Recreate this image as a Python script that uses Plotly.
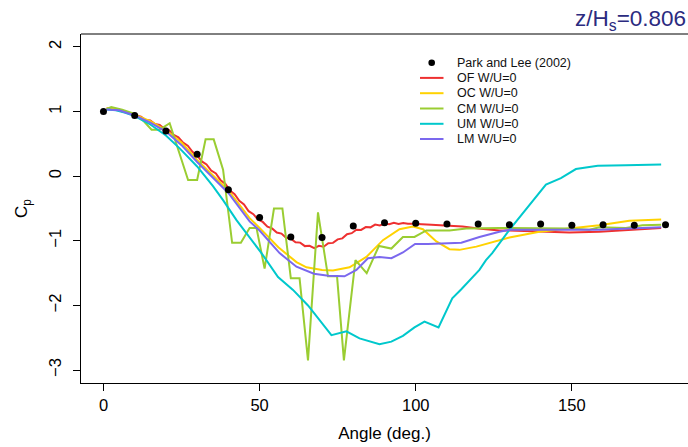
import plotly.graph_objects as go

# Reference measurements (Park and Lee, 2002)
ref_angle = [0, 10, 20, 30, 40, 50, 60, 70, 80, 90, 100, 110, 120, 130, 140, 150, 160, 170, 180]
ref_cp = [1.0, 0.94, 0.70, 0.34, -0.21, -0.64, -0.94, -0.95, -0.77, -0.72, -0.73, -0.74,
          -0.74, -0.75, -0.74, -0.76, -0.75, -0.76, -0.75]

# OF W/U=0
of_angle = [1.0, 4, 7, 10, 12, 13.5, 15, 16.5, 18, 19.5, 21, 22.5, 24, 25.5, 27, 28.5, 30, 31.5,
            33, 34.5, 36, 37.5, 39, 40.5, 42, 43.5, 45, 46.5, 48, 49.5, 51, 52.5, 54, 55.5, 57,
            58.5, 60, 61.5, 63, 64.5, 66, 67.5, 69, 70.5, 72, 73.5, 75, 76.5, 78, 79.5, 81, 82.5,
            84, 85.5, 87, 88.5, 90, 91.5, 93, 94.5, 96, 97.5, 99, 105, 110, 115, 120, 126.8, 130,
            139.6, 149.2, 158.8, 168.4, 178.6]
of_cp = [1.05, 1.03, 0.99, 0.95, 0.922, 0.868, 0.862, 0.808, 0.792, 0.733, 0.712, 0.638, 0.602,
         0.518, 0.472, 0.378, 0.322, 0.228, 0.182, 0.088, 0.042, -0.062, -0.118, -0.222, -0.278,
         -0.382, -0.438, -0.542, -0.588, -0.672, -0.708, -0.782, -0.808, -0.872, -0.888, -0.952,
         -0.968, -1.022, -1.028, -1.082, -1.078, -1.112, -1.078, -1.092, -1.038, -1.032, -0.978,
         -0.962, -0.898, -0.882, -0.828, -0.832, -0.788, -0.792, -0.748, -0.762, -0.732, -0.743,
         -0.722, -0.738, -0.724, -0.736, -0.735, -0.75, -0.76, -0.78, -0.81, -0.84, -0.84,
         -0.86, -0.87, -0.86, -0.83, -0.80]

# OC W/U=0
oc_angle = [1.0, 5, 10, 15, 20, 25, 30, 35, 40, 46.8, 50, 56, 61.8, 65, 70, 73.5, 78.8, 84.2,
            89.5, 94.8, 99.1, 102.3, 106.6, 110.8, 114, 119.4, 126.8, 130, 139.6, 149.2, 158.8,
            168.4, 178.6]
oc_cp = [1.05, 1.03, 0.95, 0.85, 0.71, 0.52, 0.25, 0.02, -0.22, -0.65, -0.80, -1.10, -1.33,
         -1.41, -1.45, -1.46, -1.41, -1.25, -0.99, -0.82, -0.78, -0.82, -1.01, -1.13, -1.14,
         -1.09, -0.99, -0.95, -0.86, -0.81, -0.76, -0.69, -0.67]

# CM W/U=0
cm_angle = [1.0, 2.5, 6, 9.5, 12.7, 15.4, 18, 21.2, 27.1, 30, 32.7, 35.3, 38.3, 41.2, 44, 46.8,
            49, 51.6, 54.6, 57.3, 60, 62.8, 65.5, 68.7, 71.9, 74.8, 77, 80.7, 84.3, 88.2, 92.2,
            95.9, 99.6, 103.4, 110.8, 116.2, 126.8, 137.5, 149.2, 155.6, 158.8, 167.3, 172.6,
            178.6]
cm_cp = [1.04, 1.07, 1.03, 0.97, 0.86, 0.72, 0.72, 0.82, -0.06, -0.06, 0.57, 0.57, 0.10, -1.03,
         -1.03, -0.80, -0.80, -1.43, -0.50, -0.50, -1.58, -1.58, -2.85, -0.56, -1.55, -1.55,
         -2.85, -1.30, -1.50, -1.08, -1.12, -0.94, -0.94, -0.84, -0.84, -0.81, -0.80, -0.81,
         -0.81, -0.83, -0.79, -0.80, -0.76, -0.75]

# UM W/U=0
um_angle = [1.0, 4, 7, 10, 15, 20, 24.4, 30, 35, 38.3, 42.6, 46.8, 50.6, 55.9, 60.7, 65.5, 73,
            77.8, 82, 88.4, 92.2, 95.9, 99.6, 102.8, 107.3, 111.7, 114.6, 120.4, 122.5, 124.5,
            130, 141.7, 146.5, 151.3, 158.3, 167.3, 178.6]
um_cp = [1.03, 1.02, 0.98, 0.93, 0.80, 0.63, 0.43, 0.15, -0.15, -0.37, -0.68, -0.94, -1.19,
         -1.56, -1.76, -2.00, -2.46, -2.40, -2.51, -2.60, -2.56, -2.47, -2.34, -2.25, -2.34,
         -1.89, -1.75, -1.45, -1.30, -1.19, -0.83, -0.13, -0.03, 0.11, 0.16, 0.17, 0.18]

# LM W/U=0
lm_angle = [1.0, 5, 10, 15, 20, 25, 30, 35, 40, 46.8, 50, 56.4, 61.8, 67.4, 72, 77.2, 81, 84.7,
            88.4, 92.2, 95.9, 99.8, 103.9, 114.6, 120.4, 126.8, 130, 149.2, 158.8, 168.4, 178.6]
lm_cp = [1.03, 1.02, 0.94, 0.83, 0.69, 0.48, 0.22, -0.02, -0.26, -0.70, -0.84, -1.19, -1.40,
         -1.51, -1.54, -1.55, -1.45, -1.27, -1.25, -1.27, -1.18, -1.05, -1.05, -1.03, -0.94,
         -0.86, -0.83, -0.83, -0.83, -0.81, -0.79]

series_names = ["OF W/U=0", "OC W/U=0", "CM W/U=0", "UM W/U=0", "LM W/U=0"]
series_colors = ["#ee3030", "#ffd200", "#9acd32", "#00c8cc", "#7b68ee"]
series_data = [(of_angle, of_cp), (oc_angle, oc_cp), (cm_angle, cm_cp),
               (um_angle, um_cp), (lm_angle, lm_cp)]

FONT = "Liberation Sans, Arial, sans-serif"
W, H = 688, 447
ML, MR, MT, MB = 81, 0, 34, 64
PW, PH = W - ML - MR, H - MT - MB

fig = go.Figure()
for name, color, (xa, ya) in zip(series_names, series_colors, series_data):
    fig.add_trace(go.Scatter(x=xa, y=ya, mode="lines", name=name,
                             line=dict(color=color, width=2), showlegend=False))
fig.add_trace(go.Scatter(x=ref_angle, y=ref_cp, mode="markers", name="Park and Lee (2002)",
                         marker=dict(color="black", size=7), showlegend=False))


def px_x(px):
    return (px - ML) / PW


def px_y(py):
    return (H - MB - py) / PH


# hand-built key in the upper right of the panel
shapes = []
annotations = []
row_y = [62.7, 77.9, 93.2, 108.5, 123.8, 139.0]
key_labels = ["Park and Lee (2002)"] + series_names
for i, (ry, label) in enumerate(zip(row_y, key_labels)):
    if i == 0:
        shapes.append(dict(type="circle", xref="paper", yref="paper",
                           x0=px_x(431.7 - 3.3), x1=px_x(431.7 + 3.3),
                           y0=px_y(ry + 3.3), y1=px_y(ry - 3.3),
                           fillcolor="black", line=dict(width=0)))
    else:
        shapes.append(dict(type="line", xref="paper", yref="paper",
                           x0=px_x(420), x1=px_x(443.5), y0=px_y(ry), y1=px_y(ry),
                           line=dict(color=series_colors[i - 1], width=2)))
    annotations.append(dict(text=label, xref="paper", yref="paper", x=px_x(454.5), y=px_y(ry),
                            xanchor="left", yanchor="middle", showarrow=False,
                            font=dict(family=FONT, size=12.5, color="#111111")))

# top border of the panel
shapes.append(dict(type="line", xref="paper", yref="paper", x0=0, x1=1, y0=1, y1=1,
                   line=dict(color="black", width=1)))

annotations.append(dict(text="z/H<sub>s</sub>=0.806", xref="paper", yref="paper",
                        x=1, y=px_y(20), xanchor="right", yanchor="middle", showarrow=False,
                        font=dict(family=FONT, size=22.5, color="#2b2b80")))

fig.update_layout(
    width=W, height=H,
    margin=dict(l=ML, r=MR, t=MT, b=MB, pad=0),
    paper_bgcolor="white", plot_bgcolor="white",
    font=dict(family=FONT, color="black"),
    shapes=shapes, annotations=annotations,
    xaxis=dict(range=[-7.2, 187.2], tickvals=[0, 50, 100, 150], ticks="outside", ticklen=7,
               tickcolor="black", showline=True, linecolor="black", linewidth=1,
               showgrid=False, zeroline=False, tickfont=dict(size=16.5, family=FONT),
               title=dict(text="Angle (deg.)", font=dict(size=17, family=FONT), standoff=14)),
    yaxis=dict(range=[-3.2, 2.2], tickvals=[-3, -2, -1, 0, 1, 2],
               ticktext=["\u22123", "\u22122", "\u22121", "0", "1", "2"],
               ticks="outside", ticklen=7, tickangle=-90, ticklabelstandoff=5,
               tickcolor="black", showline=True, linecolor="black", linewidth=1,
               showgrid=False, zeroline=False, tickfont=dict(size=16.5, family=FONT),
               title=dict(text="C<sub>p</sub>", font=dict(size=17, family=FONT), standoff=14)),
)

fig.write_html("out.html")
